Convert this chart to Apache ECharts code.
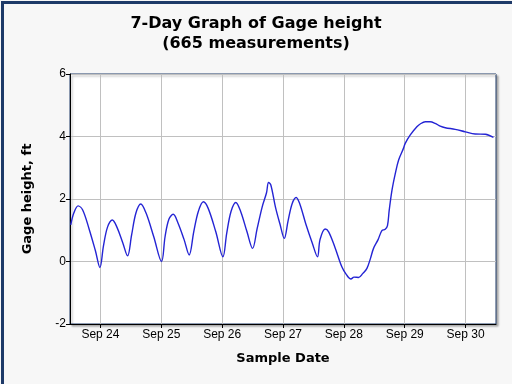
<!DOCTYPE html>
<html><head><meta charset="utf-8">
<script src="https://cdn.jsdelivr.net/npm/echarts@6/dist/echarts.min.js"></script>
<style>html,body{margin:0;padding:0;background:#f7f7f7}#c{width:512px;height:384px}</style>
</head><body><div id="c"></div>
<script>
// Hours relative to Sep 24 00:00
const hours = [-11.7,-10.5,-8.8,-7,-4.5,-2,-0.2,1.2,2.8,4.7,6.5,8.8,10.7,12.3,14,15.9,18,21,24.1,25.5,27,28.7,30.5,33,35.0,36.8,38.6,40.6,42.5,45.5,48.3,49.8,51.5,53.4,55.3,57.8,60.0,61.8,63.8,65.5,66.3,67.2,69,70.8,72.5,74,75.6,77.2,78.6,81,83.5,85.6,86.6,88.6,90,92.5,95.2,97,98.8,100,101.8,103.5,105.1,106.5,107.7,109.5,111.0,112.3,113.2,113.9,115.0,116.3,117.6,119.5,120.2,122.2,124.8,126.1,128.1,130,132.0,134,136.0,139.9,143.9,147.8,151.8,155.0];
const heights = [1.17,1.55,1.78,1.65,1.05,0.35,-0.19,0.5,1.1,1.33,1.1,0.6,0.18,0.85,1.55,1.84,1.55,0.8,0.0,0.8,1.35,1.51,1.25,0.7,0.21,0.95,1.6,1.91,1.7,0.95,0.15,0.9,1.6,1.89,1.6,0.95,0.42,1.05,1.75,2.2,2.53,2.45,1.75,1.2,0.74,1.3,1.85,2.05,1.85,1.2,0.6,0.15,0.7,1.04,0.95,0.45,-0.17,-0.42,-0.56,-0.5,-0.51,-0.38,-0.22,0.1,0.42,0.7,0.99,1.03,1.15,1.65,2.29,2.82,3.25,3.62,3.78,4.05,4.31,4.4,4.47,4.47,4.42,4.33,4.28,4.23,4.15,4.08,4.07,3.97];
const tickHours = [0,24,48,72,96,120,144];
const tickLabels = ['Sep 24','Sep 25','Sep 26','Sep 27','Sep 28','Sep 29','Sep 30'];
const titleText = '7-Day Graph of Gage height\n(665 measurements)';
const yName = 'Gage height, ft';
const xName = 'Sample Date';

const chart = echarts.init(document.getElementById('c'), null, {renderer:'canvas'});
const data = hours.map((h,i)=>[h, heights[i]]);
chart.setOption({
  animation:false,
  backgroundColor:'#f7f7f7',
  title:{text:titleText,left:'center',top:9,textStyle:{fontFamily:'DejaVu Sans',fontWeight:'bold',fontSize:16,lineHeight:20,color:'#000'}},
  graphic:[{type:'rect',left:0,top:0,shape:{width:512,height:384},style:{fill:'none',stroke:'#1e3a68',lineWidth:3},silent:true,z:100}],
  grid:{left:70,right:16,top:74,bottom:60,show:true,backgroundColor:'#fff',borderColor:'#1e3a68',borderWidth:1,shadowColor:'rgba(0,0,0,0.3)',shadowBlur:2,shadowOffsetX:2,shadowOffsetY:2},
  xAxis:{type:'value',min:-12,max:156,name:xName,nameLocation:'middle',nameGap:28,
    nameTextStyle:{fontFamily:'DejaVu Sans',fontWeight:'bold',fontSize:13,color:'#000'},
    axisLine:{show:true,onZero:false,lineStyle:{color:'#000',width:1}},
    axisTick:{show:true,length:4,customValues:tickHours,lineStyle:{color:'#000'}},
    axisLabel:{customValues:tickHours,formatter:v=>tickLabels[tickHours.indexOf(v)]||'',fontFamily:'Liberation Sans',fontSize:12,color:'#000',margin:5},
    splitLine:{show:true,lineStyle:{color:'#c0c0c0',width:1}}},
  yAxis:{type:'value',min:-2,max:6,interval:2,name:yName,nameLocation:'middle',nameGap:36,
    nameTextStyle:{fontFamily:'DejaVu Sans',fontWeight:'bold',fontSize:13,color:'#000'},
    axisLine:{show:true,onZero:false,lineStyle:{color:'#000',width:1}},
    axisTick:{show:true,length:4,lineStyle:{color:'#000'}},
    axisLabel:{fontFamily:'Liberation Sans',fontSize:12,color:'#000',margin:4},
    splitLine:{show:true,lineStyle:{color:'#c0c0c0',width:1}}},
  series:[{type:'line',data:data,showSymbol:false,smooth:0.35,lineStyle:{color:'#2424d4',width:1.4}}]
});
</script></body></html>
